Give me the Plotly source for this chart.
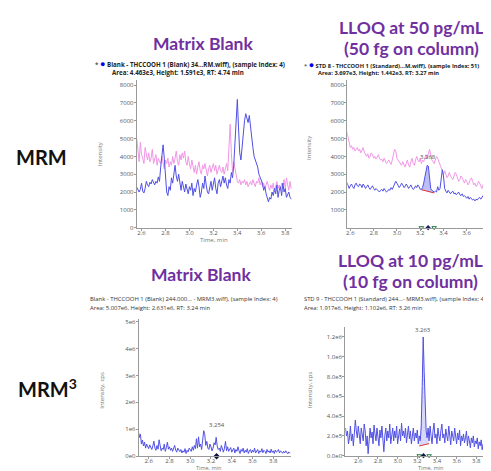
import numpy as np
import plotly.graph_objects as go

W, H = 491, 471

# ---------------- DATA ----------------
# MRM, matrix blank (time step 0.01 min from 2.56)
mrm_blank_t0 = 2.56
mrm_blank_trace = [
    2270, 2100, 2000, 2150, 2500, 2050, 1950, 2200, 2600, 2400,
    2300, 2550, 2450, 2700, 2500, 2400, 2600, 2500, 2850, 2600,
    3400, 4200, 4650, 3900, 2700, 2000, 1800, 2300, 2100, 2800,
    2500, 3100, 3500, 2900, 2600, 3000, 2400, 2100, 2600, 2300,
    2000, 2450, 2200, 1900, 2300, 2100, 2500, 1800, 2200, 2000,
    2400, 2700, 2300, 1700, 2000, 2500, 2200, 2900, 2400, 2000,
    1900, 2300, 2600, 2100, 2400, 2800, 2200, 1900, 2500, 2700,
    2300, 2600, 2900, 2500, 2800, 2400, 2200, 2700, 2500, 3100,
    2800, 3500, 4800, 6200, 7200, 5600, 4200, 3800, 4600, 5500,
    6000, 6400, 6200, 5900, 6300, 5600, 5000, 4500, 4000, 3800,
    3700, 3400, 3000, 2800, 2700, 2500, 2100, 2300, 1900, 1600,
    1450, 1700, 1600, 2000, 1800, 2200, 1900, 2400, 1700, 2100,
    2300, 1800, 2500, 2000, 2200, 1700, 1900, 2000, 1700, 1600,
]
mrm_blank_ref = [
    5000, 4200, 3700, 4800, 4100, 3900, 3600, 4500, 4000, 3800,
    4200, 3700, 3900, 4400, 3600, 3800, 4100, 3500, 3900, 3700,
    3600, 4000, 3500, 3300, 3800, 3600, 3900, 3400, 3700, 3500,
    4000, 3600, 3900, 4300, 3700, 3500, 4100, 3800, 4200, 3900,
    4300, 3700, 3500, 4000, 3600, 3300, 3800, 3400, 3100, 3500,
    3000, 3400, 3700, 3200, 3000, 3500, 3300, 3600, 3100, 2900,
    3300, 3500, 3100, 3400, 3600, 3200, 3500, 3000, 3300, 3500,
    3200, 3100, 3400, 3000, 3300, 3600, 3200, 4500, 5800, 4200,
    3100, 3700, 3300, 2800, 2600, 2500, 2700, 2400, 2600, 2500,
    2700, 2400, 2600, 2300, 2500, 2600, 2400, 2700, 2500, 2300,
    2600, 2500, 2800, 2400, 2600, 2300, 2500, 2200, 2400, 2600,
    2300, 2100, 2400, 2200, 2500, 2000, 2300, 2600, 2200, 2400,
    2100, 2500, 2300, 2700, 2200, 2800, 2400, 2100, 2600, 2200,
]

# MRM, LLOQ 50 pg/mL (time step 0.01 min from 2.57)
mrm_lloq_t0 = 2.57
mrm_lloq_trace = [
    2550, 2400, 2200, 2350, 2450, 2300, 2200, 2400, 2500, 2350,
    2300, 2450, 2400, 2250, 2450, 2350, 2200, 2300, 2400, 2250,
    2150, 2250, 2350, 2200, 2100, 2200, 2150, 2050, 2000, 2100,
    2150, 2050, 2200, 2100, 2000, 2050, 2150, 2100, 2250, 2150,
    2300, 2450, 2600, 2500, 2400, 2250, 2350, 2500, 2400, 2250,
    2300, 2450, 2350, 2200, 2300, 2400, 2250, 2150, 2200, 2350,
    2250, 2400, 2300, 2150, 2150, 2250, 2500, 2800, 3200, 3500,
    3450, 2700, 2200, 2100, 2050, 2000, 2050, 2000, 2300, 2100,
    2200, 2800, 3250, 2900, 2200, 2050, 1950, 2100, 2000, 1900,
    2000, 2050, 1900, 1950, 1850, 1900, 2000, 1850, 1800, 1900,
    1750, 1800, 1700, 1650, 1750, 1600, 1700, 1650, 1550, 1600,
    1500, 1600, 1550, 1650, 1700, 1600, 1750, 1800, 1700, 1750,
    1900, 1850, 1700, 1650, 1750, 1900, 1800, 1600, 1550, 1500,
]
mrm_lloq_ref = [
    5400, 5100, 4700, 4500, 4600, 4400, 4500, 4300, 4400, 4500,
    4300, 4400, 4200, 4350, 4500, 4250, 4100, 4000, 4150, 3900,
    4000, 4200, 4100, 3900, 4000, 3850, 3950, 4100, 3900, 3800,
    3850, 3700, 3900, 3750, 3600, 3700, 3800, 3650, 3550, 3800,
    4100, 4400, 4300, 3900, 3800, 3700, 3600, 3500, 3700, 3550,
    3400, 3600, 3800, 3500, 3400, 3700, 3900, 3600, 3500, 3800,
    4000, 3800, 3700, 3900, 3600, 3800, 3700, 3900, 4100, 3900,
    4200, 4400, 4100, 3800, 3700, 3600, 3800, 4000, 3900, 3700,
    3500, 3300, 3100, 3000, 3200, 3000, 2800, 2900, 3100, 2900,
    2800, 2700, 2900, 3100, 3000, 2800, 2600, 2700, 2900, 2800,
    2600, 2500, 2700, 2600, 2400, 2500, 2700, 2800, 2600, 2400,
    2500, 2300, 2400, 2600, 2500, 2300, 2200, 2400, 2300, 2500,
    2400, 2200, 2300, 2100, 2200, 2400, 2300, 2100, 2000, 1900,
]
mrm_lloq_peak_rt = 3.268
mrm_lloq_window = [3.21, 3.32]
mrm_lloq_baseline = [2130, 1950]

# MRM3, matrix blank (thousand cps, step 0.01 min from 2.50)
mrm3_blank_t0 = 2.50
mrm3_blank_k = [
    950, 700, 820, 450, 600, 380, 520, 300, 450, 350,
    280, 420, 330, 250, 380, 560, 300, 220, 400, 260,
    610, 350, 200, 300, 250, 450, 180, 320, 520, 260,
    350, 220, 300, 180, 260, 400, 230, 150, 300, 220,
    170, 250, 120, 200, 150, 280, 100, 220, 160, 300,
    250, 180, 350, 220, 400, 280, 650, 300, 720, 350,
    450, 250, 600, 950, 800, 400, 550, 300, 250, 450,
    350, 200, 300, 500, 420, 700, 380, 250, 300, 180,
    400, 250, 150, 300, 550, 200, 350, 180, 250, 320,
    150, 220, 300, 120, 250, 180, 350, 200, 100, 250,
    180, 300, 120, 220, 150, 280, 100, 200, 250, 120,
    230, 150, 300, 120, 180, 250, 100, 200, 150, 280,
    130, 220, 180, 100, 250, 150, 200, 120, 260, 140,
    200, 100, 230, 150, 180, 250, 120, 200, 160, 110,
    180, 120, 200, 140, 90, 160, 110,
]
mrm3_blank_peak_rt = 3.254

# MRM3, LLOQ 10 pg/mL (thousand cps, step 0.01 min from 2.47)
mrm3_lloq_t0 = 2.47
mrm3_lloq_k = [
    280, 200, 250, 120, 180, 300, 150, 220, 100, 260,
    360, 250, 180, 300, 220, 120, 280, 200, 150, 320,
    250, 100, 200, 20, 150, 280, 180, 240, 120, 310,
    220, 150, 280, 200, 100, 260, 180, 300, 150, 40,
    200, 280, 150, 250, 180, 320, 120, 220, 280, 150,
    250, 180, 300, 120, 220, 270, 150, 330, 200, 250,
    180, 280, 130, 220, 300, 170, 250, 120, 200, 280,
    150, 230, 180, 260, 120, 200, 150, 300, 700, 1200,
    850, 450, 250, 180, 280, 150, 300, 200, 120, 250,
    330, 180, 220, 120, 280, 200, 150, 250, 320, 180,
    220, 130, 270, 200, 150, 300, 180, 110, 250, 200,
    150, 280, 200, 120, 230, 160, 260, 100, 200, 150,
    220, 130, 180, 250, 100, 200, 150, 80, 180, 130,
    200, 90, 150, 120, 180, 70, 140, 100, 160, 60,
    120, 90, 130, 70, 110, 60, 100, 80, 50, 90,
    70, 100, 60, 80, 50, 70,
]
mrm3_lloq_peak_rt = 3.263
mrm3_lloq_window = [3.22, 3.32]
mrm3_lloq_baseline_k = [98, 122]

top_yticks = [0, 1000, 2000, 3000, 4000, 5000, 6000, 7000, 8000]
bl_yticks = [0, 1e6, 2e6, 3e6, 4e6, 5e6]
bl_yticklabels = ["0e0", "1e6", "2e6", "3e6", "4e6", "5e6"]
br_yticks = [0, 2e5, 4e5, 6e5, 8e5, 1e6, 1.2e6]
br_yticklabels = ["0.0e0", "2.0e5", "4.0e5", "6.0e5", "8.0e5", "1.0e6", "1.2e6"]
xticks = [2.6, 2.8, 3.0, 3.2, 3.4, 3.6, 3.8]
xticklabels = ["2.6", "2.8", "3.0", "3.2", "3.4", "3.6", "3.8"]

# ---------------- HELPERS ----------------
def tgrid(t0, n):
    return np.round(t0 + 0.01 * np.arange(n), 3)

def px(x):
    return x / W

def py(y):
    return 1 - y / H

BLUE = "rgb(80,80,228)"
PINK = "rgb(240,150,230)"
PURPLE = "#7030A0"
GRAY = "#777777"
TICKF = dict(family="Open Sans, Arial", size=6, color="#555555")

fig = go.Figure()

def add_axes(n, xdom, ydom, xr, yr, yvals, ytext):
    xa = "xaxis" if n == 1 else f"xaxis{n}"
    ya = "yaxis" if n == 1 else f"yaxis{n}"
    fig.update_layout(**{
        xa: dict(domain=xdom, range=xr, anchor=f"y{'' if n == 1 else n}",
                 tickvals=xticks, ticktext=xticklabels, showgrid=False,
                 zeroline=False, showline=True, linecolor="#999999", linewidth=1,
                 ticks="outside", ticklen=2, tickcolor="#999999",
                 ticklabelstandoff=-3, tickfont=TICKF),
        ya: dict(domain=ydom, range=yr, anchor=f"x{'' if n == 1 else n}",
                 tickvals=yvals, ticktext=ytext, showgrid=False,
                 zeroline=False, showline=True, linecolor="#999999", linewidth=1,
                 ticks="outside", ticklen=2, tickcolor="#999999",
                 ticklabelstandoff=-1, tickfont=TICKF),
    })

def peak_fill(t, y, window, base, xref, yref, color, pattern=None):
    t = np.asarray(t); y = np.asarray(y, dtype=float)
    m = (t >= window[0] - 1e-9) & (t <= window[1] + 1e-9)
    tw = t[m]; yw = y[m]
    bx = np.array(window); by = np.array(base, dtype=float)
    bw = np.interp(tw, bx, by)
    xs = np.concatenate([tw, tw[::-1]])
    ys = np.concatenate([yw, bw[::-1]])
    kw = dict(fillpattern=pattern) if pattern else {}
    fig.add_trace(go.Scatter(x=xs, y=ys, fill="toself", fillcolor=color,
                             line=dict(width=0), mode="lines", xaxis=xref,
                             yaxis=yref, hoverinfo="skip", **kw))
    fig.add_trace(go.Scatter(x=bx, y=by, mode="lines", line=dict(color="#e03030", width=1),
                             xaxis=xref, yaxis=yref, hoverinfo="skip"))

# ---- Panel 1: MRM blank
t1 = tgrid(mrm_blank_t0, len(mrm_blank_trace))
add_axes(1, [px(128), px(284)], [py(221), py(71.6)], [2.56, 3.86], [0, 8300],
         top_yticks, [str(v) for v in top_yticks])
fig.add_trace(go.Scatter(x=t1, y=mrm_blank_ref, mode="lines",
                         line=dict(color=PINK, width=1), xaxis="x", yaxis="y"))
fig.add_trace(go.Scatter(x=t1, y=mrm_blank_trace, mode="lines",
                         line=dict(color=BLUE, width=1), xaxis="x", yaxis="y"))

# ---- Panel 2: MRM LLOQ
t2 = tgrid(mrm_lloq_t0, len(mrm_lloq_trace))
add_axes(2, [px(339), px(490)], [py(221), py(71.6)], [2.574, 3.868], [0, 8300],
         top_yticks[1:], [str(v) for v in top_yticks[1:]])
fig.add_trace(go.Scatter(x=t2, y=mrm_lloq_ref, mode="lines",
                         line=dict(color=PINK, width=1), xaxis="x2", yaxis="y2"))
peak_fill(t2, mrm_lloq_trace, mrm_lloq_window, mrm_lloq_baseline, "x2", "y2",
          "rgba(110,110,235,0.45)")
fig.add_trace(go.Scatter(x=t2, y=mrm_lloq_trace, mode="lines",
                         line=dict(color=BLUE, width=1), xaxis="x2", yaxis="y2"))

# ---- Panel 3: MRM3 blank
t3 = tgrid(mrm3_blank_t0, len(mrm3_blank_k))
y3 = np.array(mrm3_blank_k) * 1e3
add_axes(3, [px(130), px(283)], [py(452), py(313)], [2.504, 3.975], [0, 5.11e6],
         bl_yticks, bl_yticklabels)
fig.add_trace(go.Scatter(x=t3, y=y3, mode="lines",
                         line=dict(color=BLUE, width=1), xaxis="x3", yaxis="y3"))

# ---- Panel 4: MRM3 LLOQ
t4 = tgrid(mrm3_lloq_t0, len(mrm3_lloq_k))
y4 = np.array(mrm3_lloq_k) * 1e3
add_axes(4, [px(337), 1.0], [py(451.5), py(321.7)], [2.468, 4.031], [0, 1.298e6],
         br_yticks, br_yticklabels)
peak_fill(t4, y4, mrm3_lloq_window, np.array(mrm3_lloq_baseline_k) * 1e3, "x4", "y4",
          "rgba(160,160,240,0.35)",
          pattern=dict(shape="x", fgcolor="rgba(80,80,200,0.6)", size=3, solidity=0.2))
fig.add_trace(go.Scatter(x=t4, y=y4, mode="lines",
                         line=dict(color=BLUE, width=1), xaxis="x4", yaxis="y4"))

# small integration markers below axes
fig.add_trace(go.Scatter(x=[mrm_lloq_window[0], mrm_lloq_peak_rt, mrm_lloq_window[1]],
                         y=[0, 0, 0], mode="markers", cliponaxis=False,
                         marker=dict(symbol=["triangle-down-open", "diamond", "triangle-down-open"],
                                     size=4, color=["#2a7a4a", "#1a1a60", "#2a7a4a"]),
                         xaxis="x2", yaxis="y2"))
fig.add_trace(go.Scatter(x=[mrm3_blank_peak_rt], y=[0], mode="markers", cliponaxis=False,
                         marker=dict(symbol="diamond", size=5, color="#101040"),
                         xaxis="x3", yaxis="y3"))
fig.add_trace(go.Scatter(x=[mrm3_lloq_window[0], mrm3_lloq_peak_rt, mrm3_lloq_window[1]],
                         y=[0, 0, 0], mode="markers", cliponaxis=False,
                         marker=dict(symbol=["triangle-down-open", "diamond", "triangle-down-open"],
                                     size=4, color=["#2a7a4a", "#101040", "#2a7a4a"]),
                         xaxis="x4", yaxis="y4"))

# ---------------- ANNOTATIONS ----------------
ann = []
def A(x, y, text, size, color="#222222", bold=False, xanchor="center", angle=0,
      family="Lato, Open Sans, Arial"):
    t = f"<b>{text}</b>" if bold else text
    ann.append(dict(x=px(x), y=py(y), xref="paper", yref="paper", text=t,
                    showarrow=False, xanchor=xanchor, yanchor="middle",
                    textangle=angle, font=dict(size=size, color=color, family=family)))

# titles
A(194, 35, "Matrix Blank", 17.5, PURPLE, True)
A(403, 19, "LLOQ at 50 pg/mL", 17.5, PURPLE, True)
A(403, 40, "(50 fg on column)", 17.5, PURPLE, True)
A(192, 268, "Matrix Blank", 17.5, PURPLE, True)
A(402, 254, "LLOQ at 10 pg/mL", 17.5, PURPLE, True)
A(402, 275, "(10 fg on column)", 17.5, PURPLE, True)

# side labels
A(33, 150, "MRM", 20, "#111111", True)
A(39, 383, "MRM<sup>3</sup>", 20, "#111111", True)

# headers
HF = "Open Sans, Arial"
dot = '<span style="color:#0000ee;font-size:9px">●</span>'
A(84, 55.5, f"* {dot} <b>Blank - THCCOOH 1 (Blank) 34...RM.wiff), (sample Index: 4)</b>", 6.2,
  "#222222", False, "left", family=HF)
A(101, 64, "<b>Area: 4.463e3, Height: 1.591e3, RT: 4.74 min</b>", 6.2, "#222222", False, "left",
  family=HF)
A(294, 56, f"* {dot} <b>STD 8 - THCCOOH 1 (Standard)...M.wiff), (sample Index: 51)</b>", 5.7,
  "#222222", False, "left", family=HF)
A(308, 64.5, "<b>Area: 3.697e3, Height: 1.442e3, RT: 3.27 min</b>", 5.7, "#222222", False, "left",
  family=HF)
A(79, 293, "Blank - THCCOOH 1 (Blank) 244.000... - MRM3.wiff), (sample Index: 4)", 5.9,
  "#333333", False, "left", family=HF)
A(79, 302, "Area: 5.007e6, Height: 2.631e6, RT: 3.24 min", 5.9, "#333333", False, "left",
  family=HF)
A(294, 293, "STD 9 - THCCOOH 1 (Standard) 244...- MRM3.wiff), (sample Index: 44)", 5.8,
  "#333333", False, "left", family=HF)
A(294, 302, "Area: 1.917e6, Height: 1.102e6, RT: 3.26 min", 5.8, "#333333", False, "left",
  family=HF)

# axis titles
A(92, 147, "Intensity", 6, GRAY, angle=-90, family=HF)
A(300, 140, "Intensity", 6, GRAY, angle=-90, family=HF)
A(93, 385, "Intensity, cps", 6, GRAY, angle=-90, family=HF)
A(302, 385, "Intensity, cps", 6, GRAY, angle=-90, family=HF)
A(205, 233, "Time, min", 6, GRAY, family=HF)
A(200, 463.5, "Time, min", 5.5, GRAY, family=HF)
A(422, 463.5, "Time, min", 5.5, GRAY, family=HF)

fig.update_layout(annotations=ann)

# peak labels (data-anchored)
fig.add_annotation(x=mrm_lloq_peak_rt, y=max(mrm_lloq_trace), xref="x2", yref="y2",
                   text=f"{mrm_lloq_peak_rt:.3f}", showarrow=False, yanchor="bottom", yshift=2,
                   font=dict(size=6, color="#555555", family=HF))
fig.add_annotation(x=mrm3_blank_peak_rt, y=y3.max(), xref="x3", yref="y3",
                   text=f"{mrm3_blank_peak_rt:.3f}", showarrow=False, yanchor="bottom", yshift=0,
                   font=dict(size=6, color="#555555", family=HF))
fig.add_annotation(x=mrm3_lloq_peak_rt, y=y4.max(), xref="x4", yref="y4",
                   text=f"{mrm3_lloq_peak_rt:.3f}", showarrow=False, yanchor="bottom", yshift=1,
                   font=dict(size=6, color="#555555", family=HF))

fig.update_layout(width=W, height=H, margin=dict(l=0, r=0, t=0, b=0),
                  paper_bgcolor="white", plot_bgcolor="white", showlegend=False)

fig.write_html("out.html")
